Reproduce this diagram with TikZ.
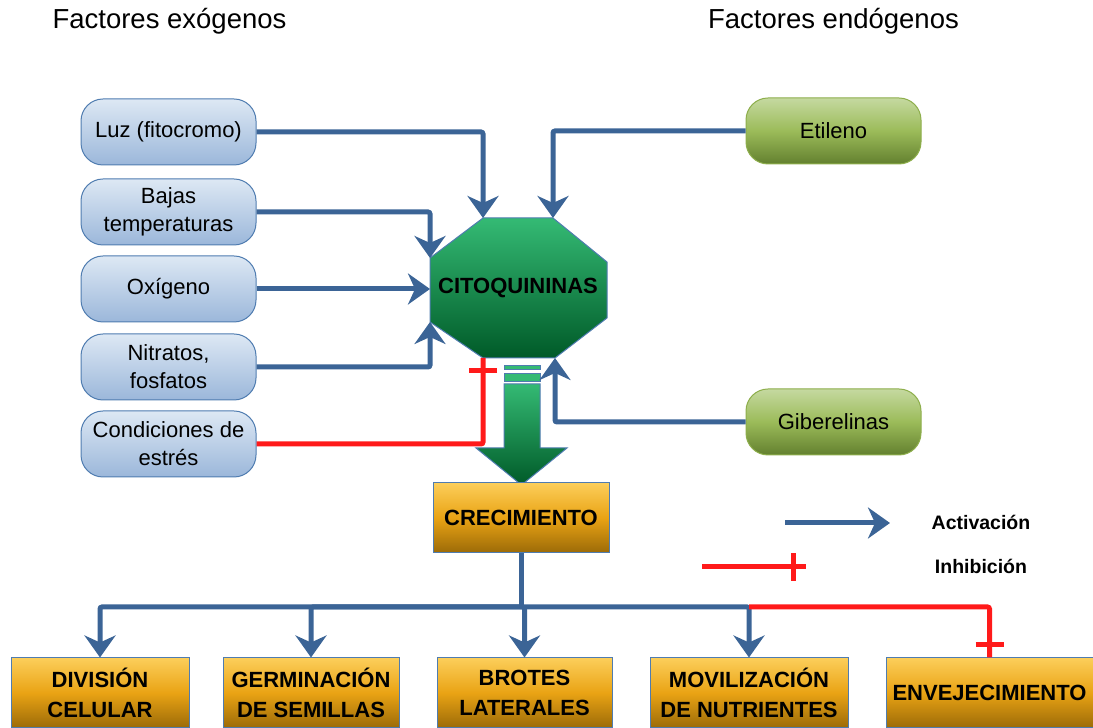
\documentclass[tikz,border=0pt]{standalone}
\usepackage{fontspec}
\setmainfont{Liberation Sans}
\usetikzlibrary{arrows.meta,decorations.markings}
\definecolor{actblue}{HTML}{3B6496}
\definecolor{inhred}{HTML}{FF1A1A}
\definecolor{exotop}{HTML}{DDE8F4}
\definecolor{exobot}{HTML}{9BB7DA}
\definecolor{boxline}{HTML}{4F7CB0}
\definecolor{endotop}{HTML}{C5D9A0}
\definecolor{endomid}{HTML}{9BBB59}
\definecolor{endobot}{HTML}{63802F}
\definecolor{endoline}{HTML}{8DAE4B}
\definecolor{citotop}{HTML}{34BA74}
\definecolor{citobot}{HTML}{005A28}
\definecolor{restop}{HTML}{FCCE5A}
\definecolor{resmid}{HTML}{E9A314}
\definecolor{resbot}{HTML}{9B6A08}
\begin{document}
\begin{tikzpicture}[x=1pt,y=1pt,
        act/.style={draw=actblue,line width=5pt,rounded corners=2pt,
            -{Stealth[length=22pt,width=31pt,inset=7pt]}},
        inh/.style={draw=inhred,line width=5pt,rounded corners=2pt,
            decoration={markings,mark=at position -13pt with
                {\draw[inhred,line width=5pt] (0,-14pt) -- (0,14pt);}},
            postaction={decorate}},
        exo/.style={draw=boxline,line width=1pt,rounded corners=22pt,
            top color=exotop,bottom color=exobot,minimum width=175pt,
            minimum height=66pt,align=center,inner sep=0pt,
            font=\fontsize{22}{28}\selectfont},
        endo/.style={exo,draw=endoline,top color=endotop,bottom color=endobot,
            middle color=endomid},
        res/.style={draw=boxline,line width=1pt,top color=restop,
            bottom color=resbot,middle color=resmid,minimum height=70pt,
            align=center,inner sep=0pt,font=\bfseries\fontsize{22}{30}\selectfont},
        title/.style={font=\fontsize{27.5}{30}\selectfont}]
    \useasboundingbox (0,0) rectangle (1093,728);

    \node[title] (exot) at (169.5,707) {Factores exógenos};
    \node[title] (endot) at (833.5,707) {Factores endógenos};

    % factores exogenos
    \node[exo] (luz) at (168.5,596) {Luz (fitocromo)};
    \node[exo] (bajas) at (168.5,516) {Bajas\\temperaturas};
    \node[exo] (oxi) at (168.5,439) {Oxígeno};
    \node[exo] (nit) at (168.5,361) {Nitratos,\\fosfatos};
    \node[exo] (cond) at (168.5,284) {Condiciones de\\estrés};

    % factores endogenos
    \node[endo] (eti) at (833.5,597) {Etileno};
    \node[endo] (gib) at (833.5,306) {Giberelinas};

    % octogono
    \coordinate (o-nw) at (483,510);
    \coordinate (o-ne) at (553,510);
    \coordinate (o-wn) at (430,470);
    \coordinate (o-ws) at (430,406);
    \coordinate (o-sw) at (483,370);
    \coordinate (o-se) at (555,370);
    \shade[top color=citotop,bottom color=citobot,draw=boxline,line width=1pt]
        (o-nw) -- (o-ne) -- (607,466) -- (607,410) -- (o-se) -- (o-sw)
        -- (o-ws) -- (o-wn) -- cycle;
    \node[font=\bfseries\fontsize{22}{26}\selectfont] (cito) at (518,440) {CITOQUININAS};

    % flecha gruesa
    \filldraw[fill=citotop,draw=boxline,line width=1pt] (504,358) rectangle (540,362);
    \filldraw[fill=citotop,draw=boxline,line width=1pt] (504,346) rectangle (540,354);
    \shade[top color=citotop,bottom color=citobot,draw=boxline,line width=1pt]
        (504,344) -- (540,344) -- (540,280) -- (567,280) -- (521.5,243)
        -- (476,280) -- (504,280) -- cycle;

    \node[res,minimum width=176pt] (crec) at (521,210) {CRECIMIENTO};

    % efectos
    \node[res,minimum width=178pt] (div) at (100,35) {DIVISIÓN\\CELULAR};
    \node[res,minimum width=176pt] (germ) at (311,35) {GERMINACIÓN\\DE SEMILLAS};
    \node[res,minimum width=175pt] (brot) at (524.5,35) {BROTES\\LATERALES};
    \node[res,minimum width=198pt] (mov) at (749,35) {MOVILIZACIÓN\\DE NUTRIENTES};
    \node[res,minimum width=207pt] (env) at (989.5,35) {ENVEJECIMIENTO};

    \draw[act] (luz.east) -| (o-nw);
    \draw[act] (bajas.east) -| (o-wn);
    \draw[act] (oxi.east) -- (oxi.east -| o-wn);
    \draw[act] (nit.east) -| (o-ws);
    \draw[inh] (cond.east) -| (o-sw);
    \draw[act] (eti.west) -| (o-ne);
    \draw[act] (gib.west) -| (o-se);

    \coordinate (split) at (521,121);
    \draw[actblue,line width=5pt] (crec.south) -- (split);
    \draw[act] (split) -| (div.north);
    \draw[act] (split) -| (germ.north);
    \draw[act] (split) -- (brot.north |- split) -- (brot.north);
    \draw[act] (split) -| (mov.north);
    \draw[inh] (mov.north |- split) -| (env.north);

    % leyenda
    \coordinate (la1) at (785,205);
    \coordinate (la2) at (890,205);
    \coordinate (li1) at (702,161);
    \coordinate (li2) at (806,161);
    \draw[act] (la1) -- (la2);
    \draw[inh] (li1) -- (li2);
    \node[font=\bfseries\fontsize{19.5}{22}\selectfont] (actl) at (981,206) {Activación};
    \node[font=\bfseries\fontsize{19.5}{22}\selectfont] (inhl) at (981,162) {Inhibición};
\end{tikzpicture}
\end{document}
